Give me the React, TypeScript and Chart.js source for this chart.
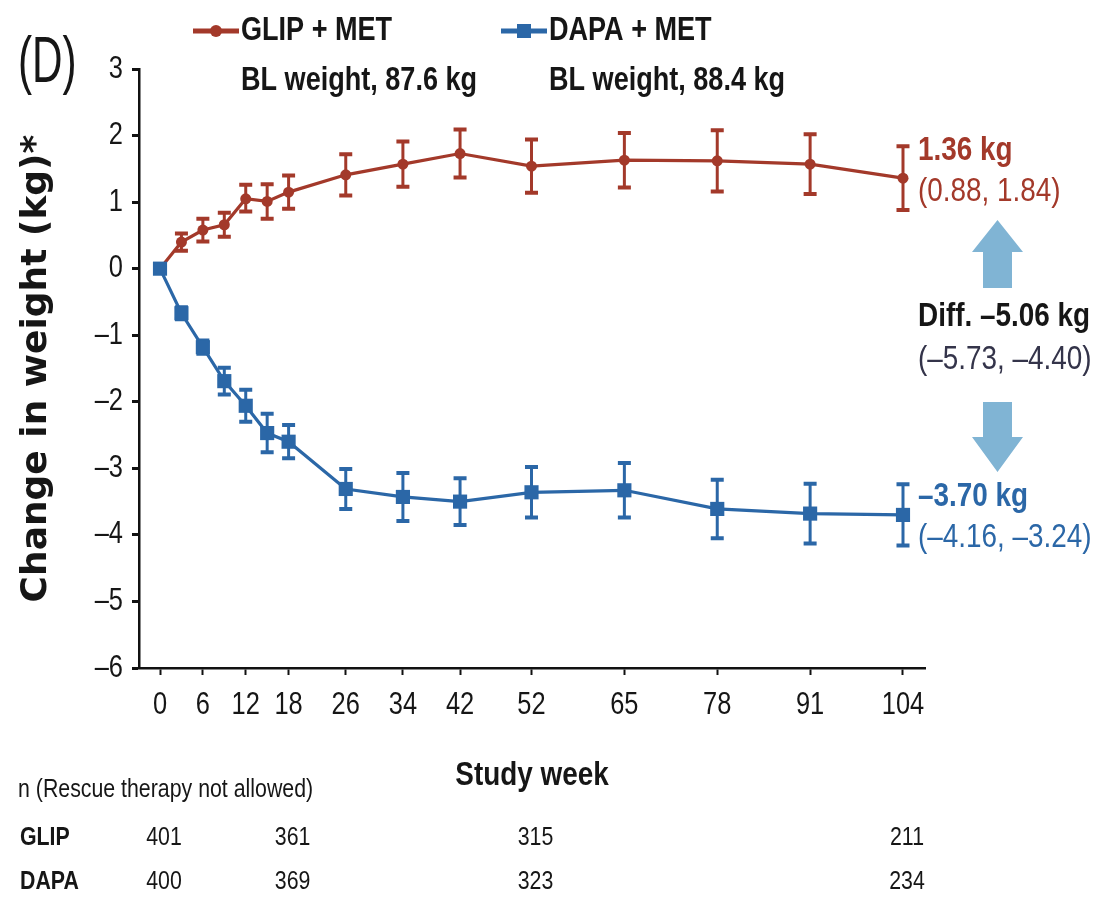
import React, { useEffect, useRef } from 'react';
import { Chart, registerables } from 'chart.js';

Chart.register(...registerables);

// ---------------- data ----------------
const weeks = [0, 3, 6, 9, 12, 15, 18, 26, 34, 42, 52, 65, 78, 91, 104];
const glipMean = [0, 0.40, 0.58, 0.66, 1.05, 1.01, 1.15, 1.41, 1.57, 1.73, 1.54, 1.63, 1.62, 1.57, 1.36];
const glipLow = [0, 0.27, 0.41, 0.48, 0.86, 0.75, 0.90, 1.10, 1.23, 1.37, 1.14, 1.22, 1.16, 1.12, 0.88];
const glipHigh = [0, 0.53, 0.75, 0.84, 1.26, 1.27, 1.40, 1.72, 1.91, 2.09, 1.94, 2.04, 2.08, 2.02, 1.84];
const dapaMean = [0, -0.67, -1.18, -1.69, -2.06, -2.47, -2.60, -3.31, -3.43, -3.50, -3.36, -3.33, -3.61, -3.68, -3.70];
const dapaLow = [0, -0.76, -1.28, -1.89, -2.30, -2.76, -2.85, -3.61, -3.79, -3.85, -3.74, -3.74, -4.05, -4.13, -4.16];
const dapaHigh = [0, -0.58, -1.08, -1.49, -1.82, -2.18, -2.35, -3.01, -3.07, -3.15, -2.98, -2.92, -3.17, -3.23, -3.24];
const xTickWeeks = [0, 6, 12, 18, 26, 34, 42, 52, 65, 78, 91, 104];
const yTickValues = [3, 2, 1, 0, -1, -2, -3, -4, -5, -6];
const seriesNames = ['GLIP + MET', 'DAPA + MET'];
const blWeights = [87.6, 88.4];
const diffMean = -5.06;
const diffLow = -5.73;
const diffHigh = -4.4;
const nWeeks = [0, 18, 52, 104];
const nGlip = [401, 361, 315, 211];
const nDapa = [400, 369, 323, 234];

// ---------------- styles ----------------
const RED = '#a3392a';
const BLUE = '#2b67a7';
const ARROW = '#80b4d4';
const INK = '#161616';
const NARROW_MARK = 'zznarrow';
const NARROW = `"Liberation Sans", Arial, ${NARROW_MARK}`;
const SX = 0.82; // Arial Narrow-like horizontal compression

const dash = (s: string) => s.replace(/-/g, '\u2013');
const fmt = (v: number) => dash(v.toFixed(2));

function condense(ctx: CanvasRenderingContext2D) {
  const orig = ctx.fillText.bind(ctx);
  (ctx as any).fillText = (t: string, x: number, y: number, mw?: number) => {
    if (ctx.font.includes(NARROW_MARK)) {
      ctx.save();
      ctx.translate(x, y);
      ctx.scale(SX, 1);
      if (mw === undefined) orig(t, 0, 0);
      else orig(t, 0, 0, mw / SX);
      ctx.restore();
    } else if (mw === undefined) orig(t, x, y);
    else orig(t, x, y, mw);
  };
}

export default function App() {
  const ref = useRef<HTMLCanvasElement | null>(null);

  useEffect(() => {
    const canvas = ref.current;
    if (!canvas) return;
    const c2d = canvas.getContext('2d');
    if (c2d && !(c2d as any).__condensed) {
      condense(c2d);
      (c2d as any).__condensed = true;
    }

    const decor = {
      id: 'decor',
      beforeDatasetsDraw(chart: any) {
        const ctx = chart.ctx as CanvasRenderingContext2D;
        const xs = chart.scales.x;
        const ys = chart.scales.y;
        const bars = [
          { low: glipLow, high: glipHigh, color: RED },
          { low: dapaLow, high: dapaHigh, color: BLUE },
        ];
        ctx.save();
        for (const b of bars) {
          ctx.strokeStyle = b.color;
          for (let i = 0; i < weeks.length; i++) {
            if (b.low[i] === b.high[i]) continue;
            const x = xs.getPixelForValue(weeks[i]);
            const y1 = ys.getPixelForValue(b.low[i]);
            const y2 = ys.getPixelForValue(b.high[i]);
            ctx.lineWidth = 3;
            ctx.beginPath();
            ctx.moveTo(x, y1);
            ctx.lineTo(x, y2);
            ctx.stroke();
            ctx.lineWidth = 4;
            ctx.beginPath();
            ctx.moveTo(x - 6.5, y1);
            ctx.lineTo(x + 6.5, y1);
            ctx.moveTo(x - 6.5, y2);
            ctx.lineTo(x + 6.5, y2);
            ctx.stroke();
          }
        }
        ctx.restore();
      },
      afterDraw(chart: any) {
        const ctx = chart.ctx as CanvasRenderingContext2D;
        const xs = chart.scales.x;
        const text = (s: string, x: number, y: number, font: string, color: string, align: CanvasTextAlign = 'left') => {
          ctx.font = font;
          ctx.fillStyle = color;
          ctx.textAlign = align;
          ctx.textBaseline = 'middle';
          ctx.fillText(s, x, y);
        };
        ctx.save();

        // panel letter
        ctx.save();
        ctx.translate(18, 64);
        ctx.scale(0.66, 1);
        text('(D)', 0, 0, `64px "Liberation Sans", Arial`, INK);
        ctx.restore();

        // legend
        const legendItems = [
          { x0: 193, color: RED, style: 'circle' },
          { x0: 501, color: BLUE, style: 'rect' },
        ];
        legendItems.forEach((it, k) => {
          const y = 31;
          ctx.strokeStyle = it.color;
          ctx.fillStyle = it.color;
          ctx.lineWidth = 5;
          ctx.beginPath();
          ctx.moveTo(it.x0, y);
          ctx.lineTo(it.x0 + 46, y);
          ctx.stroke();
          const cx = it.x0 + 23;
          if (it.style === 'circle') {
            ctx.beginPath();
            ctx.arc(cx, y, 6, 0, Math.PI * 2);
            ctx.fill();
          } else {
            ctx.fillRect(cx - 7, y - 7, 14, 14);
          }
          text(seriesNames[k], it.x0 + 48, y, `bold 33px ${NARROW}`, INK);
          text(`BL weight, ${blWeights[k].toFixed(1)} kg`, it.x0 + 48, 81, `bold 33px ${NARROW}`, INK);
        });

        // right annotations
        const L = glipMean.length - 1;
        const tx = 918;
        text(`${fmt(glipMean[L])} kg`, tx, 151, `bold 34px ${NARROW}`, RED);
        text(`(${fmt(glipLow[L])}, ${fmt(glipHigh[L])})`, tx, 192, `34px ${NARROW}`, RED);
        text(`Diff. ${fmt(diffMean)} kg`, tx, 317, `bold 34px ${NARROW}`, INK);
        text(`(${fmt(diffLow)}, ${fmt(diffHigh)})`, tx, 360, `34px ${NARROW}`, '#34344a');
        text(`${fmt(dapaMean[L])} kg`, tx, 497, `bold 34px ${NARROW}`, BLUE);
        text(`(${fmt(dapaLow[L])}, ${fmt(dapaHigh[L])})`, tx, 538, `34px ${NARROW}`, BLUE);

        // arrows
        const ax = 997.5;
        ctx.fillStyle = ARROW;
        ctx.beginPath();
        ctx.moveTo(ax, 220);
        ctx.lineTo(ax + 25.5, 252);
        ctx.lineTo(ax + 14.5, 252);
        ctx.lineTo(ax + 14.5, 288);
        ctx.lineTo(ax - 14.5, 288);
        ctx.lineTo(ax - 14.5, 252);
        ctx.lineTo(ax - 25.5, 252);
        ctx.closePath();
        ctx.fill();
        ctx.beginPath();
        ctx.moveTo(ax - 14.5, 402);
        ctx.lineTo(ax + 14.5, 402);
        ctx.lineTo(ax + 14.5, 437);
        ctx.lineTo(ax + 25.5, 437);
        ctx.lineTo(ax, 472);
        ctx.lineTo(ax - 25.5, 437);
        ctx.lineTo(ax - 14.5, 437);
        ctx.closePath();
        ctx.fill();

        // n table
        text('n (Rescue therapy not allowed)', 18, 790, `26px ${NARROW}`, INK);
        text('GLIP', 20, 838, `bold 26px ${NARROW}`, INK);
        text('DAPA', 20, 882, `bold 26px ${NARROW}`, INK);
        nWeeks.forEach((w, i) => {
          const x = xs.getPixelForValue(w) + 4;
          text(String(nGlip[i]), x, 838, `26px ${NARROW}`, INK, 'center');
          text(String(nDapa[i]), x, 882, `26px ${NARROW}`, INK, 'center');
        });
        ctx.restore();
      },
    };

    const chart = new Chart(canvas, {
      type: 'line',
      data: {
        datasets: [
          {
            label: seriesNames[0],
            data: weeks.map((w, i) => ({ x: w, y: glipMean[i] })),
            borderColor: RED,
            backgroundColor: RED,
            borderWidth: 3.2,
            pointStyle: 'circle',
            pointRadius: 5.5,
            pointBorderWidth: 0,
            order: 1,
            tension: 0,
          },
          {
            label: seriesNames[1],
            data: weeks.map((w, i) => ({ x: w, y: dapaMean[i] })),
            borderColor: BLUE,
            backgroundColor: BLUE,
            borderWidth: 3.2,
            pointStyle: 'rect',
            pointRadius: 10,
            pointBorderWidth: 0,
            order: 0,
            tension: 0,
          },
        ],
      },
      options: {
        responsive: false,
        animation: false,
        devicePixelRatio: 1,
        layout: { padding: { left: 0, right: 178, top: 69, bottom: 0 } },
        plugins: { legend: { display: false }, tooltip: { enabled: false } },
        scales: {
          x: {
            type: 'linear',
            min: -2.94,
            max: 107.08,
            afterBuildTicks: (s: any) => {
              s.ticks = xTickWeeks.map((v) => ({ value: v }));
            },
            afterFit: (s: any) => {
              s.height = 231;
            },
            grid: { drawOnChartArea: false, drawTicks: true, tickLength: 7, tickWidth: 2, tickColor: '#111' },
            border: { display: true, color: '#111', width: 2.5 },
            ticks: {
              autoSkip: false,
              maxRotation: 0,
              padding: 12,
              color: INK,
              font: { family: NARROW, size: 31 },
              callback: (v: any) => String(v),
            },
            title: {
              display: true,
              text: 'Study week',
              color: INK,
              font: { family: NARROW, size: 34, weight: 'bold' },
              padding: { top: 0, bottom: 103 },
            },
          },
          y: {
            type: 'linear',
            min: -6,
            max: 3,
            afterBuildTicks: (s: any) => {
              s.ticks = yTickValues.map((v) => ({ value: v }));
            },
            afterFit: (s: any) => {
              s.width = 139;
            },
            grid: { drawOnChartArea: false, drawTicks: true, tickLength: 7, tickWidth: 3, tickColor: '#111' },
            border: { display: true, color: '#111', width: 2.5 },
            ticks: {
              autoSkip: false,
              padding: 9,
              color: INK,
              font: { family: NARROW, size: 31 },
              callback: (v: any) => dash(String(v)),
            },
            title: {
              display: true,
              text: 'Change in weight (kg)*',
              color: INK,
              font: { family: '"DejaVu Sans", "Liberation Sans", sans-serif', size: 36, weight: 'bold' },
              padding: { top: 15, bottom: 0 },
            },
          },
        },
      },
      plugins: [decor],
    } as any);

    return () => chart.destroy();
  }, []);

  return (
    <div style={{ position: 'absolute', left: 0, top: 0, width: 1103, height: 899, background: '#fff' }}>
      <canvas ref={ref} width={1103} height={899} style={{ display: 'block', width: 1103, height: 899 }} />
    </div>
  );
}
